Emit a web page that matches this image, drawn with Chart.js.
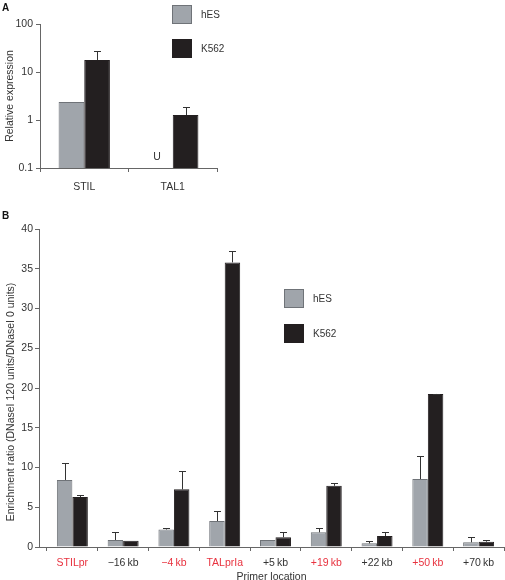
<!DOCTYPE html>
<html><head><meta charset="utf-8">
<script src="https://cdn.jsdelivr.net/npm/chart.js@4"></script>
<style>
html,body{margin:0;padding:0;background:#fff;width:505px;height:580px;overflow:hidden}
#wa{position:absolute;left:0;top:0;width:505px;height:200px}
#wb{position:absolute;left:0;top:200px;width:505px;height:380px}
</style></head><body>
<div id="wa"><canvas id="ca"></canvas></div>
<div id="wb"><canvas id="cb"></canvas></div>
<script>
// ---- Panel A data ----
const seriesNames = ['hES', 'K562'];
const genes = ['STIL', 'TAL1'];
const expHES = [2.37, null];
const expHESErr = [0, 0];
const expHESUndetected = [false, true];
const expK562 = [17.8, 1.27];
const expK562Err = [9.6, 0.59];
const expTicks = [0.1, 1, 10, 100];

// ---- Panel B data ----
const primers = ['STILpr', '\u221216\u2009kb', '\u22124\u2009kb', 'TALprIa', '+5\u2009kb', '+19\u2009kb', '+22\u2009kb', '+50\u2009kb', '+70\u2009kb'];
const primerHighlight = [true, false, true, true, false, true, false, true, false];
const enrHES = [8.43, 0.88, 2.2, 3.27, 0.88, 1.85, 0.46, 8.55, 0.59];
const enrHESErr = [2.14, 0.97, 0.2, 1.23, 0, 0.5, 0.34, 2.95, 0.63];
const enrK562 = [6.29, 0.8, 7.25, 35.8, 1.22, 7.7, 1.38, 19.25, 0.67];
const enrK562Err = [0.21, 0, 2.35, 1.4, 0.63, 0.4, 0.47, 0.05, 0.21];
const enrTicks = [0, 5, 10, 15, 20, 25, 30, 35, 40];

// ---- styles ----
const FONT = '"Liberation Sans", Arial, sans-serif';
const GRAY = '#a0a5ab', GRAY_EDGE = '#6f7378', BLACK = '#231f20';
const AXIS = '#666', TEXT = '#333', RED = '#e8323f';
Chart.defaults.font.family = FONT;
Chart.defaults.font.size = 10;
Chart.defaults.color = TEXT;
Chart.defaults.animation = false;

const errorBars = {
  id: 'errorBars',
  afterDatasetsDraw(chart) {
    const ctx = chart.ctx, ys = chart.scales.y;
    chart.data.datasets.forEach((ds, di) => {
      if (!ds.errors) return;
      const meta = chart.getDatasetMeta(di);
      meta.data.forEach((bar, i) => {
        const v = ds.values[i], e = ds.errors[i];
        if (v == null || !e) return;
        const xa = Math.round(bar.x) + 0.5;
        const y0 = ys.getPixelForValue(v);
        const y1 = Math.round(ys.getPixelForValue(v + e)) + 0.5;
        ctx.save();
        ctx.strokeStyle = '#333'; ctx.lineWidth = 1;
        ctx.beginPath();
        ctx.moveTo(xa, y0); ctx.lineTo(xa, y1);
        ctx.moveTo(xa - 3.5, y1); ctx.lineTo(xa + 3.5, y1);
        ctx.stroke();
        ctx.restore();
      });
    });
  }
};

const boxLegend = {
  id: 'boxLegend',
  afterDraw(chart, args, o) {
    const ctx = chart.ctx;
    ctx.save();
    chart.data.datasets.forEach((ds, i) => {
      const y = o.y + i * o.gap;
      ctx.fillStyle = ds.backgroundColor;
      ctx.fillRect(o.x, y, 20, 19);
      ctx.strokeStyle = ds.borderColor; ctx.lineWidth = 1;
      ctx.strokeRect(o.x + 0.5, y + 0.5, 19, 18);
      ctx.fillStyle = TEXT;
      ctx.font = '10px ' + FONT;
      ctx.textBaseline = 'middle'; ctx.textAlign = 'left';
      ctx.fillText(ds.label, o.x + 29, y + 10);
    });
    ctx.fillStyle = '#111';
    ctx.font = 'bold 10px ' + FONT;
    ctx.textBaseline = 'middle'; ctx.textAlign = 'left';
    ctx.fillText(o.panel, 2, o.panelY);
    if (o.yTitle) {
      ctx.save();
      ctx.translate(o.yTitle.x, o.yTitle.y);
      ctx.rotate(-Math.PI / 2);
      ctx.font = '10.5px ' + FONT;
      ctx.fillStyle = TEXT;
      ctx.textAlign = 'center';
      ctx.fillText(o.yTitle.text, 0, 0);
      ctx.restore();
    }
    ctx.restore();
  }
};

const undetectedMark = {
  id: 'undetectedMark',
  afterDatasetsDraw(chart) {
    const ctx = chart.ctx, meta = chart.getDatasetMeta(0), ys = chart.scales.y;
    expHESUndetected.forEach((u, i) => {
      if (!u) return;
      const x = meta.data[i].x;
      ctx.save();
      ctx.fillStyle = TEXT; ctx.font = '10.5px ' + FONT;
      ctx.textAlign = 'center'; ctx.textBaseline = 'bottom';
      ctx.fillText('U', x - 3, ys.getPixelForValue(expTicks[0]) - 6);
      ctx.restore();
    });
  }
};

// ---- Panel A ----
new Chart(document.getElementById('ca'), {
  type: 'bar',
  data: {
    labels: genes,
    datasets: [
      { label: seriesNames[0], data: expHES, values: expHES, errors: expHESErr,
        backgroundColor: GRAY, borderColor: GRAY_EDGE, borderWidth: 1 },
      { label: seriesNames[1], data: expK562, values: expK562, errors: expK562Err,
        backgroundColor: BLACK, borderColor: BLACK, borderWidth: 1 }
    ]
  },
  options: {
    responsive: true, maintainAspectRatio: false,
    layout: { padding: { left: 0, top: 24, right: 288, bottom: 0 } },
    datasets: { bar: { categoryPercentage: 0.58, barPercentage: 1 } },
    plugins: {
      legend: { display: false }, tooltip: { enabled: false },
      boxLegend: { x: 172, y: 5, gap: 34, panel: 'A', panelY: 8 }
    },
    scales: {
      x: {
        afterFit: s => { s.height = 32; },
        grid: { display: true, drawOnChartArea: false, offset: true, tickLength: 4, color: AXIS },
        border: { color: AXIS },
        ticks: { padding: 9, color: TEXT, font: { size: 10.5 } }
      },
      y: {
        type: 'logarithmic', min: 0.1, max: 100,
        afterFit: s => { s.width = 40; },
        afterBuildTicks: s => { s.ticks = expTicks.map(v => ({ value: v })); },
        grid: { display: true, drawOnChartArea: false, tickLength: 4, color: AXIS },
        border: { color: AXIS },
        ticks: { padding: 3, color: TEXT, font: { size: 10.5 }, callback: v => String(v) },
        title: { display: true, text: 'Relative expression', color: TEXT, font: { size: 10.5 }, padding: { top: 4, bottom: 0 } }
      }
    }
  },
  plugins: [errorBars, boxLegend, undetectedMark]
});

// ---- Panel B ----
new Chart(document.getElementById('cb'), {
  type: 'bar',
  data: {
    datasets: [
      { label: seriesNames[0], data: enrHES.map((v, i) => ({ x: i, y: v })), values: enrHES, errors: enrHESErr,
        backgroundColor: GRAY, borderColor: GRAY_EDGE, borderWidth: 1 },
      { label: seriesNames[1], data: enrK562.map((v, i) => ({ x: i, y: v })), values: enrK562, errors: enrK562Err,
        backgroundColor: BLACK, borderColor: BLACK, borderWidth: 1 }
    ]
  },
  options: {
    responsive: true, maintainAspectRatio: false,
    layout: { padding: { left: 0, top: 29, right: 1, bottom: 0 } },
    datasets: { bar: { categoryPercentage: 0.61, barPercentage: 1 } },
    plugins: {
      legend: { display: false }, tooltip: { enabled: false },
      boxLegend: { x: 284, y: 89, gap: 35, panel: 'B', panelY: 16,
        yTitle: { x: 11, y: 202, text: 'Enrichment ratio (DNaseI 120 units/DNaseI 0 units)' } }
    },
    scales: {
      x: {
        type: 'linear', offset: false, min: -0.657, max: primers.length - 0.5,
        afterFit: s => { s.height = 33; },
        afterBuildTicks: s => { s.ticks = primers.map((_, i) => ({ value: i })); },
        grid: { display: true, drawOnChartArea: false, offset: true, tickLength: 4, color: AXIS },
        border: { color: AXIS },
        ticks: { padding: 6, autoSkip: false, maxRotation: 0, font: { size: 10.5 },
          callback: v => primers[v],
          color: c => primerHighlight[c.tick ? c.tick.value : c.index] ? RED : TEXT },
        title: { display: true, text: 'Primer location', color: TEXT, font: { size: 10.5 }, padding: { top: 0, bottom: -3 } }
      },
      y: {
        min: 0, max: 40,
        afterFit: s => { s.width = 39; },
        afterBuildTicks: s => { s.ticks = enrTicks.map(v => ({ value: v })); },
        grid: { display: true, drawOnChartArea: false, tickLength: 4, color: AXIS },
        border: { color: AXIS },
        ticks: { padding: 2, color: TEXT, font: { size: 10.5 } }
      }
    }
  },
  plugins: [errorBars, boxLegend]
});
</script>
</body></html>
